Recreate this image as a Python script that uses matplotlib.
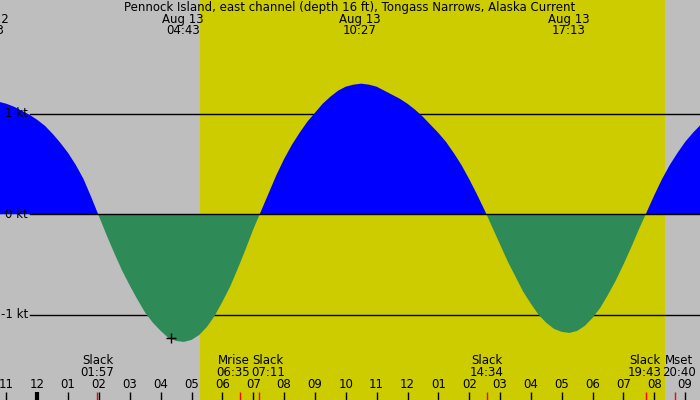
import numpy as np
import matplotlib
matplotlib.use('Agg')
import matplotlib.pyplot as plt
from matplotlib.transforms import blended_transform_factory

# current in knots, sampled every quarter hour (hours relative to Aug 13 00:00)
hours = np.arange(-1.5, 21.51, 0.25)
current_kt = [1.15, 1.12, 1.10, 1.07, 1.03, 0.99, 0.94, 0.88, 0.80, 0.71, 0.61, 0.49, 0.35, 0.17,
              -0.02, -0.21, -0.39, -0.56, -0.71, -0.85, -0.98, -1.08, -1.16, -1.23, -1.26, -1.27,
              -1.25, -1.20, -1.12, -1.01, -0.87, -0.72, -0.54, -0.35, -0.15,
              0.03, 0.21, 0.39, 0.55, 0.69, 0.81, 0.92, 1.01, 1.10, 1.17, 1.23, 1.27, 1.29, 1.30,
              1.29, 1.27, 1.23, 1.19, 1.15, 1.10, 1.04, 0.97, 0.89, 0.81, 0.72, 0.61, 0.49, 0.35,
              0.20, 0.04,
              -0.13, -0.30, -0.47, -0.62, -0.77, -0.89, -1.00, -1.08, -1.14, -1.17, -1.18, -1.16,
              -1.11, -1.03, -0.93, -0.80, -0.66, -0.50, -0.33, -0.15,
              0.02, 0.19, 0.35, 0.49, 0.61, 0.72, 0.81, 0.89]

# max flood / ebb labels along the top
peak_dates = ['Aug 12', 'Aug 13', 'Aug 13', 'Aug 13']
peak_times = ['22:23', '04:43', '10:27', '17:13']
peak_day_offset = [-24, 0, 0, 0]

# events along the bottom
event_names = ['Slack', 'Mrise', 'Slack', 'Slack', 'Slack', 'Mset']
event_times = ['01:57', '06:35', '07:11', '14:34', '19:43', '20:40']
event_label_shift = [0, -7, 9, 0, -1, 4]  # px, to keep labels apart

sunrise, sunset = '05:16', '20:21'
now_time, now_kt = '04:20', -1.23

hour_ticks = list(range(-1, 22))
hour_labels = ['11', '12', '01', '02', '03', '04', '05', '06', '07', '08', '09', '10',
               '11', '12', '01', '02', '03', '04', '05', '06', '07', '08', '09']
kt_levels = [1, 0, -1]
kt_labels = ['1 kt', '0 kt', '-1 kt']


def to_h(t):
    hh, mm = t.split(':')
    return int(hh) + int(mm) / 60


GRAY = '#bebebe'
YELLOW = '#cccc00'
BLUE = '#0000ff'
GREEN = '#2e8b57'

W, H = 700, 400
px_per_h = 30.85
x0 = 37.3          # pixel of midnight
px_per_kt = 100.5
y0 = 214.3         # pixel of 0 kt

xmin = -x0 / px_per_h
xmax = (W - x0) / px_per_h
ymax = y0 / px_per_kt
ymin = (y0 - H) / px_per_kt

plt.rcParams['font.family'] = ['DejaVu Sans']
fig = plt.figure(figsize=(7, 4), dpi=100)
fig.patch.set_facecolor(GRAY)
ax = fig.add_axes([0, 0, 1, 1])
ax.set_facecolor(GRAY)
ax.set_xlim(xmin, xmax)
ax.set_ylim(ymin, ymax)
ax.axis('off')

ax.axvspan(to_h(sunrise), to_h(sunset), color=YELLOW, lw=0, zorder=0)

lx = 30 / W
for lev in kt_levels:
    ax.axhline(lev, xmin=lx, xmax=1, color='black', lw=1, zorder=1 if lev else 3)

cur = np.array(current_kt)
ax.fill_between(hours, 0, cur, where=cur >= 0, interpolate=True, color=BLUE, lw=0, zorder=2)
ax.fill_between(hours, 0, cur, where=cur <= 0, interpolate=True, color=GREEN, lw=0, zorder=2)

ax.plot([to_h(now_time)], [now_kt], marker='+', color='black', ms=7, mew=1, zorder=4)

fs = 8.5
top = blended_transform_factory(ax.transData, fig.transFigure)
for lev, lab in zip(kt_levels, kt_labels):
    ax.text(28 / px_per_h + xmin, lev, lab, ha='right', va='center', fontsize=fs, zorder=5)

ax.text(0.5, 1 - 7 / H, 'Pennock Island, east channel (depth 16 ft), Tongass Narrows, Alaska Current',
        transform=fig.transFigure, ha='center', va='center', fontsize=fs)
for d, t, off in zip(peak_dates, peak_times, peak_day_offset):
    h = to_h(t) + off
    ax.text(h, 1 - 19 / H, d, transform=top, ha='center', va='center', fontsize=fs)
    ax.text(h, 1 - 31 / H, t, transform=top, ha='center', va='center', fontsize=fs)

for name, t, sh in zip(event_names, event_times, event_label_shift):
    h = to_h(t)
    ax.text(h + sh / px_per_h, 1 - 361 / H, name, transform=top, ha='center', va='center', fontsize=fs)
    ax.text(h + sh / px_per_h, 1 - 373 / H, t, transform=top, ha='center', va='center', fontsize=fs)
    ax.vlines(h, 0, 8 / H, transform=top, color='red', lw=1, zorder=4)

for h, lab in zip(hour_ticks, hour_labels):
    ax.text(h, 1 - 385 / H, lab, transform=top, ha='center', va='center', fontsize=fs)
    ax.vlines(h, 0, 8 / H, transform=top, color='black', lw=3 if h == 0 else 1, zorder=4)

fig.savefig('out.png', dpi=100, facecolor=GRAY)
